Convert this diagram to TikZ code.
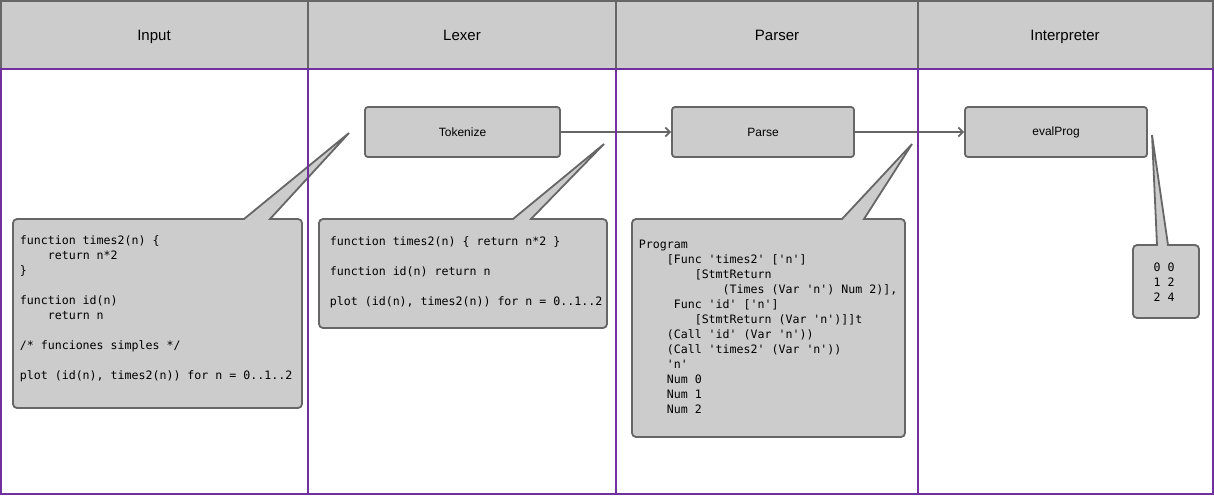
\documentclass[tikz,border=0pt]{standalone}
\usepackage{fontspec}
\setmainfont{Liberation Sans}
\newfontfamily\codefont{DejaVu Sans Mono}[Ligatures=TeXOff]
\usetikzlibrary{arrows.meta}
\definecolor{lanegray}{RGB}{204,204,204}
\definecolor{linegray}{RGB}{102,102,102}
\definecolor{lanepurple}{RGB}{112,48,160}
\newcommand{\ind}[1]{\hspace*{#1\fontcharwd\font`0}}

\begin{document}
\begin{tikzpicture}
  [x=1pt,y=-1pt,line width=1.8pt,every node/.style={inner sep=0pt},
   head/.style={fill=lanegray,draw=linegray,line width=2pt},
   lane/.style={draw=lanepurple,line width=2pt},
   headtext/.style={anchor=base,font=\fontsize{15}{18}\selectfont},
   task/.style={draw=linegray,fill=lanegray,rounded corners=3pt,minimum height=50pt,font=\fontsize{12}{14}\selectfont},
   bubble/.style={draw=linegray,fill=lanegray},
   code/.style={align=left,anchor=north west,font=\codefont\fontsize{11.6}{15}\selectfont},
   flow/.style={draw=linegray,-{Straight Barb[length=4.5pt,width=9pt]}}]
  \useasboundingbox (0,0) rectangle (1214,496);

  % lane heads
  \foreach \a/\b in {1/308,308/616,616/918,918/1213}
    \draw[head] (\a,1) rectangle (\b,69);
  \node[headtext] (input) at (154,40.5) {Input};
  \node[headtext] (lexer) at (462,40.5) {Lexer};
  \node[headtext] (parser) at (777,40.5) {Parser};
  \node[headtext] (interp) at (1065,40.5) {Interpreter};

  % callouts
  \draw[bubble] (13,300) [rounded corners=4pt] -- (13,219) [sharp corners] -- (244,219) -- (349,133) -- (270,219)
    [rounded corners=4pt] -- (302,219) -- (302,408) -- (13,408) -- cycle;
  \draw[bubble] (319,270) [rounded corners=4pt] -- (319,219) [sharp corners] -- (513,219) -- (604,144) -- (531,219)
    [rounded corners=4pt] -- (607,219) -- (607,328) -- (319,328) -- cycle;
  \draw[bubble] (632,300) [rounded corners=4pt] -- (632,219) [sharp corners] -- (842,219) -- (912,144) -- (864,219)
    [rounded corners=4pt] -- (905,219) -- (905,437) -- (632,437) -- cycle;
  \draw[bubble] (1133,280) [rounded corners=4pt] -- (1133,245) [sharp corners] -- (1157,245) -- (1152,135) -- (1168,245)
    [rounded corners=4pt] -- (1199,245) -- (1199,318) -- (1133,318) -- cycle;

  \node[code] (inputcode) at (19,235) {function times2(n) \{\\
    \ind{4}return n*2\\
    \}\\[15pt]
    function id(n)\\
    \ind{4}return n\\[15pt]
    /* funciones simples */\\[15pt]
    plot (id(n), times2(n)) for n = 0..1..2};
  \node[code] (tokens) at (329,236) {function times2(n) \{ return n*2 \}\\[15pt]
    function id(n) return n\\[15pt]
    plot (id(n), times2(n)) for n = 0..1..2};
  \node[code] (ast) at (638,239) {Program\\
    \ind{4}[Func 'times2' ['n']\\
    \ind{8}[StmtReturn\\
    \ind{12}(Times (Var 'n') Num 2)],\\
    \ind{5}Func 'id' ['n']\\
    \ind{8}[StmtReturn (Var 'n')]]t\\
    \ind{4}(Call 'id' (Var 'n'))\\
    \ind{4}(Call 'times2' (Var 'n'))\\
    \ind{4}'n'\\
    \ind{4}Num 0\\
    \ind{4}Num 1\\
    \ind{4}Num 2};
  \node[code,anchor=center] (result) at (1164,282) {0 0\\1 2\\2 4};

  % steps
  \node[task,minimum width=195pt] (tok) at (462.5,132) {Tokenize};
  \node[task,minimum width=182pt] (parse) at (763,132) {Parse};
  \node[task,minimum width=182pt] (eval) at (1056,132) {evalProg};

  \foreach \from/\to in {tok/parse,parse/eval}
    \draw[flow] (\from) -- (\to);

  % lane bodies
  \foreach \a/\b in {1/308,308/616,616/918,918/1213}
    \draw[lane] (\a,69) rectangle (\b,494);
\end{tikzpicture}
\end{document}
